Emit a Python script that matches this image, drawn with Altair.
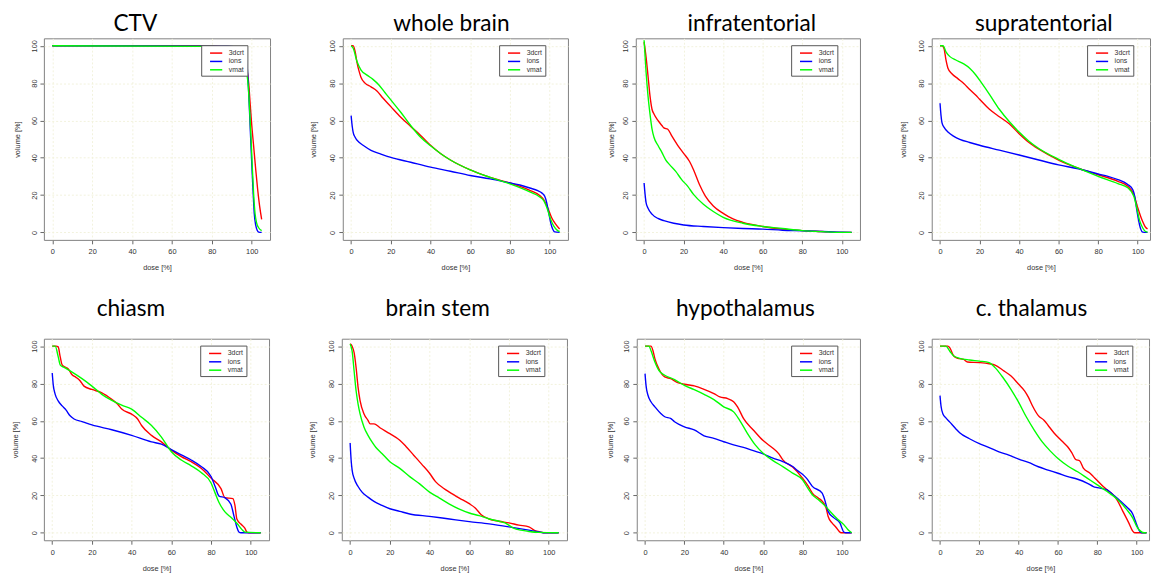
import altair as alt
import pandas as pd

SERIES = ["3dcrt", "ions", "vmat"]
COLORS = ["#ff0000", "#0000ff", "#00ff00"]
TICKS = [0, 20, 40, 60, 80, 100]

# ---------------- CTV ----------------
ctv_3dcrt_dose = [0, 75, 85, 90, 94, 96, 97.5, 98.5, 99.3, 100, 101, 102, 103, 104, 105]
ctv_3dcrt_vol = [100, 100, 99.5, 98.5, 96, 93, 88, 80, 68, 58, 46, 34, 23, 14, 7]
ctv_ions_dose = [0, 88, 94, 96, 97, 97.8, 98.5, 99.3, 100, 100.7, 101.3, 102, 102.8, 103.5, 105]
ctv_ions_vol = [100, 99.8, 99, 97.5, 95, 88, 75, 55, 38, 22, 10, 4, 1, 0.2, 0]
ctv_vmat_dose = [0, 80, 88, 92, 95, 96.5, 97.5, 98.3, 99, 99.7, 100.3, 101, 101.7, 102.5, 103.5, 105]
ctv_vmat_vol = [100, 99.7, 98.5, 97, 95, 92, 86, 78, 65, 50, 35, 20, 10, 5, 2.5, 1]

# ---------------- whole brain ----------------
wb_3dcrt_dose = [0, 1, 2, 3, 4, 5, 7, 10, 13, 16, 20, 25, 30, 35, 40, 45, 50, 60, 70, 80, 85, 90, 95, 97, 99, 101, 103, 105]
wb_3dcrt_vol = [100, 100, 97, 90.8, 86.4, 83, 80, 78, 75.8, 72, 67.4, 61.7, 56.8, 52, 46.7, 42.3, 38.8, 33.5, 29.5, 26.5, 24.7, 22.6, 19.8, 17.6, 13.2, 7.9, 4.4, 1.8]
wb_ions_dose = [0, 0.5, 1, 2, 4, 6, 10, 15, 20, 30, 40, 50, 60, 70, 80, 85, 90, 94, 96, 97.5, 98.5, 99.5, 100.5, 101.5, 102.5, 105]
wb_ions_vol = [62.6, 57.3, 53.8, 51, 48.3, 46.7, 44, 42, 40.2, 37.6, 35, 32.8, 30.5, 28.7, 26.5, 25.4, 23.8, 22.4, 21.2, 19.4, 16, 10.6, 5.3, 1.8, 0.3, 0]
wb_vmat_dose = [0, 1, 3, 5, 8, 11, 14, 17, 20, 25, 30, 35, 40, 45, 50, 60, 70, 80, 90, 95, 97, 99, 100.5, 102, 104, 105]
wb_vmat_vol = [100, 98.8, 91.4, 87, 84.3, 82, 79, 75, 71, 64.4, 57.3, 51, 46.4, 42.3, 38.8, 33.5, 29.5, 26, 21.7, 19, 17, 12, 7, 3.5, 1, 0.5]

# ---------------- infratentorial ----------------
inf_3dcrt_dose = [0, 1, 2, 3, 4, 5, 7, 9, 10, 12, 14, 17, 20, 23, 25, 28, 31, 35, 40, 45, 50, 60, 70, 80, 90, 100, 105]
inf_3dcrt_vol = [102, 94, 83.7, 73, 66, 63.5, 60, 57.3, 56, 55.3, 51.7, 46.7, 42.4, 38, 33.6, 25.7, 19.5, 14.2, 10.2, 7.2, 5.4, 3.2, 1.8, 1, 0.5, 0, 0]
inf_ions_dose = [0, 0.5, 1, 2, 4, 7, 10, 15, 20, 30, 40, 50, 60, 70, 80, 90, 100, 105]
inf_ions_vol = [26.5, 20.4, 16, 13, 9.8, 7.5, 6.3, 4.9, 4, 3.2, 2.6, 2.1, 1.8, 1.2, 0.9, 0.5, 0.1, 0]
inf_vmat_dose = [0, 1, 2, 3, 4, 5, 7, 9, 11, 13, 16, 19, 22, 25, 30, 35, 40, 50, 60, 70, 80, 90, 100, 105]
inf_vmat_vol = [103, 86, 73, 63.4, 55.5, 51, 46.7, 42.9, 38.8, 36.2, 32.7, 28.3, 24.8, 20.4, 15.1, 11.2, 8.1, 4.9, 3.2, 2.1, 1, 0.4, 0, 0]

# ---------------- supratentorial ----------------
sup_3dcrt_dose = [0, 1, 2, 3, 4, 6, 9, 12, 15, 18, 20, 25, 30, 35, 40, 45, 50, 60, 70, 80, 90, 95, 98, 100, 102, 104, 105]
sup_3dcrt_vol = [100, 100, 98.6, 92.4, 88, 85, 82.4, 79.8, 76.6, 73.6, 71.4, 66, 62, 58.2, 52.9, 48.2, 44.6, 38.8, 34.4, 30.9, 27.4, 24.8, 20.4, 13.4, 7.2, 2.8, 1.9]
sup_ions_dose = [0, 0.5, 1, 2, 4, 7, 10, 15, 20, 30, 40, 50, 60, 70, 80, 85, 90, 95, 97.5, 98.5, 99.5, 100.5, 101.5, 102.5, 105]
sup_ions_vol = [69.2, 62.6, 58.7, 56.4, 53.8, 51.5, 49.9, 48.2, 46.7, 44.1, 41.5, 38.8, 36.2, 34.1, 31.3, 30, 28.3, 25.7, 23, 19.5, 12.5, 6.3, 1.9, 0.2, 0]
sup_vmat_dose = [0, 1.5, 3, 5, 8, 12, 15, 18, 21, 25, 30, 35, 40, 45, 50, 60, 70, 80, 90, 95, 98, 99.5, 101, 102.5, 104, 105]
sup_vmat_vol = [100, 100, 96.8, 94.2, 92.4, 90.3, 88, 84.5, 80.1, 74, 66, 59.4, 53.8, 48.9, 45, 39.2, 34.4, 30, 26.2, 23.9, 19.5, 13.4, 6.3, 2.5, 0.5, 0.2]

# ---------------- chiasm ----------------
chi_3dcrt_dose = [0, 2, 3, 4, 5, 7, 8, 10, 12, 14, 16, 20, 25, 30, 33, 35, 40, 43, 45, 50, 55, 60, 65, 70, 75, 80, 85, 87, 91, 92, 93, 95, 97, 98, 99, 105]
chi_3dcrt_vol = [100, 100, 99.6, 94.4, 90, 88.6, 87.9, 84.7, 83.3, 81.5, 78.6, 76.8, 75, 71.5, 68.9, 66.3, 63.6, 61, 57.5, 52.2, 48.7, 44.3, 40.8, 38.1, 34.6, 29.3, 23.7, 18.8, 18.3, 14.8, 7.4, 4.7, 2.5, 0.4, 0, 0]
chi_ions_dose = [0, 0.5, 1.5, 3, 5, 7, 9, 11, 15, 20, 30, 40, 50, 55, 60, 65, 70, 75, 80, 82, 84, 87, 90, 91.5, 93, 94, 95, 105]
chi_ions_vol = [85.6, 79.4, 74.2, 70.7, 68, 65.7, 62.7, 61, 59.6, 57.8, 55.2, 52.2, 48.7, 47.5, 44.6, 41.7, 39, 35.5, 30.2, 25, 19.7, 18.8, 15.3, 9.1, 3, 0.4, 0, 0]
chi_vmat_dose = [0, 1.5, 3, 4, 6, 10, 15, 20, 25, 30, 35, 40, 45, 50, 55, 60, 65, 70, 75, 80, 82, 84, 87, 90, 93, 96, 97, 105]
chi_vmat_vol = [100, 100, 94.4, 90, 88.6, 86.1, 82.6, 78.6, 74.2, 71, 68.4, 66.3, 61.9, 57.5, 51.3, 43.4, 39, 35.9, 32.3, 26.7, 21.4, 16.2, 11.2, 8.3, 5.1, 1.2, 0.4, 0]

# ---------------- brain stem ----------------
bs_3dcrt_dose = [0, 1, 2, 3, 4, 5, 7, 9, 10, 12, 15, 20, 25, 28, 32, 36, 40, 43, 47, 50, 55, 60, 63, 66, 70, 75, 80, 85, 90, 93, 96, 98, 105]
bs_3dcrt_vol = [101.2, 100, 96.5, 88.5, 77.9, 70.8, 63.7, 60.2, 58.4, 58.4, 56.3, 53.1, 49.6, 46.4, 41.6, 36.8, 31.9, 27.4, 23.9, 21.8, 18.6, 15.6, 13.3, 9.7, 7.4, 6.2, 5.3, 4.1, 3.2, 1.2, 0.4, 0, 0]
bs_ions_dose = [0, 0.5, 1, 2, 4, 6, 9, 12, 16, 20, 25, 30, 40, 50, 60, 70, 80, 90, 95, 98, 105]
bs_ions_vol = [48.1, 38.9, 33.6, 29.2, 24.8, 21.8, 19.1, 16.8, 14.7, 12.9, 11.5, 10.1, 8.8, 7.4, 6, 4.8, 3.2, 1.4, 0.5, 0, 0]
bs_vmat_dose = [0, 1, 2, 3, 4, 5, 7, 9, 11, 13, 16, 20, 25, 30, 35, 40, 45, 50, 55, 60, 65, 70, 75, 78, 82, 86, 90, 95, 105]
bs_vmat_vol = [101.2, 97.3, 86.7, 76.1, 69, 63.7, 56.6, 52.2, 48.7, 45.7, 42.5, 38.1, 34.5, 30.1, 26.2, 21.8, 18.6, 15.4, 12.7, 10.6, 9.2, 7.4, 6.2, 5.3, 2.7, 1.4, 0.7, 0.2, 0]

# ---------------- hypothalamus ----------------
hyp_3dcrt_dose = [0, 3, 4, 5, 7, 10, 13, 16, 20, 25, 30, 35, 38, 42, 45, 47, 50, 55, 60, 65, 68, 70, 75, 80, 83, 85, 88, 90, 92, 93, 95, 97, 99, 100, 105]
hyp_3dcrt_vol = [100, 100, 97.7, 93.3, 87.9, 83.5, 82.6, 80.8, 79.6, 78.7, 76.9, 74.6, 72.8, 71.9, 70.2, 67.5, 61.3, 55.1, 49.4, 45.3, 42.3, 39.1, 35.2, 29.3, 24.9, 21.3, 18.7, 16.9, 13.3, 8.9, 5.3, 3, 0.4, 0, 0]
hyp_ions_dose = [0, 0.5, 1.5, 3, 5, 8, 10, 13, 15, 20, 25, 30, 35, 40, 45, 50, 55, 60, 65, 70, 75, 78, 80, 82, 85, 90, 91, 93, 96, 99, 101, 102, 105]
hyp_ions_vol = [85.3, 79, 73.7, 70.2, 67.5, 63.9, 62.2, 61.3, 59.5, 56.8, 55.1, 52, 50.6, 48.8, 47.1, 45.8, 44, 42.3, 40, 38.2, 35.5, 32.9, 31.4, 29.3, 24.9, 21.3, 18.7, 11.5, 8, 5.3, 0.4, 0, 0]
hyp_vmat_dose = [0, 2, 3, 5, 7, 10, 15, 20, 25, 30, 35, 40, 45, 48, 52, 56, 60, 65, 70, 75, 80, 83, 85, 88, 92, 95, 98, 101, 103, 105]
hyp_vmat_vol = [100, 100, 97.7, 91.5, 87, 84.4, 82.1, 79, 76.7, 74.2, 71.4, 67.5, 64.8, 60.4, 53.3, 47.1, 42.6, 38.7, 35.5, 32, 28.4, 23.4, 20.4, 17.8, 13.9, 10.3, 7.1, 4.4, 1.8, 0]

# ---------------- c. thalamus ----------------
tha_3dcrt_dose = [0, 4, 5, 7, 9, 12, 14, 20, 25, 28, 32, 36, 40, 43, 45, 47, 50, 53, 55, 58, 62, 65, 67, 69, 71, 73, 76, 78, 80, 83, 85, 88, 90, 93, 96, 98, 99, 105]
tha_3dcrt_vol = [100, 100, 99.1, 94.7, 93.5, 92.9, 91.5, 91.2, 90.6, 89.9, 87.1, 84.1, 79.6, 76.1, 72.6, 68.1, 62.8, 60.2, 57.5, 53.5, 49.2, 46, 43, 39.3, 38.6, 34.5, 32.2, 30.1, 28, 24.8, 23, 20.4, 17.7, 11.5, 5.3, 0.9, 0, 0]
tha_ions_dose = [0, 0.5, 1.5, 3, 5, 8, 10, 15, 20, 25, 30, 35, 40, 45, 50, 55, 60, 65, 70, 75, 78, 80, 85, 88, 92, 95, 98, 100, 101.5, 102.5, 105]
tha_ions_vol = [73.5, 68.1, 63.7, 61.6, 59.3, 55.8, 53.6, 50.4, 47.8, 45.7, 43.4, 41.6, 39.5, 37.7, 35.4, 33.6, 31.9, 30.1, 28.7, 26.5, 24.8, 24.2, 23, 20.4, 16.8, 13.8, 10.1, 4.4, 0.9, 0, 0]
tha_vmat_dose = [0, 3, 5, 7, 10, 15, 20, 25, 28, 32, 36, 40, 44, 48, 52, 56, 60, 65, 70, 75, 80, 85, 90, 95, 98, 100, 102, 104, 105]
tha_vmat_vol = [100, 100, 97.3, 94.7, 93.5, 92.6, 92, 91.2, 88.5, 83.2, 77, 69.9, 61.9, 54.9, 48.7, 43.9, 39.8, 35.8, 32.7, 29.2, 25.7, 22.1, 18.1, 12.4, 8, 3.5, 0.9, 0, 0]

PANELS = [
    ("CTV", [(ctv_3dcrt_dose, ctv_3dcrt_vol), (ctv_ions_dose, ctv_ions_vol), (ctv_vmat_dose, ctv_vmat_vol)]),
    ("whole brain", [(wb_3dcrt_dose, wb_3dcrt_vol), (wb_ions_dose, wb_ions_vol), (wb_vmat_dose, wb_vmat_vol)]),
    ("infratentorial", [(inf_3dcrt_dose, inf_3dcrt_vol), (inf_ions_dose, inf_ions_vol), (inf_vmat_dose, inf_vmat_vol)]),
    ("supratentorial", [(sup_3dcrt_dose, sup_3dcrt_vol), (sup_ions_dose, sup_ions_vol), (sup_vmat_dose, sup_vmat_vol)]),
    ("chiasm", [(chi_3dcrt_dose, chi_3dcrt_vol), (chi_ions_dose, chi_ions_vol), (chi_vmat_dose, chi_vmat_vol)]),
    ("brain stem", [(bs_3dcrt_dose, bs_3dcrt_vol), (bs_ions_dose, bs_ions_vol), (bs_vmat_dose, bs_vmat_vol)]),
    ("hypothalamus", [(hyp_3dcrt_dose, hyp_3dcrt_vol), (hyp_ions_dose, hyp_ions_vol), (hyp_vmat_dose, hyp_vmat_vol)]),
    ("c. thalamus", [(tha_3dcrt_dose, tha_3dcrt_vol), (tha_ions_dose, tha_ions_vol), (tha_vmat_dose, tha_vmat_vol)]),
]

# layout per panel
WIDTHS = [230, 229, 228, 222, 229, 229, 227, 221]
X_MAX = [109.2, 109.2, 109.2, 106.25, 109.2, 109.2, 109.2, 106.3]
LEGEND_X = [160, 159, 158, 158, 159, 159, 157, 157]
TITLE_DX = [-22, -4, 4, 3, -26, -17, -3, -9]
Y_TITLE_PAD = [9, 12, 7, 11, 10.5, 12, 9, 11]
TITLE_OFFSET = [2.5, 2.5, 2.5, 2.5, 18, 18, 18, 18]
HEIGHT = 205

AXIS_COMMON = dict(
    values=TICKS,
    grid=True,
    gridColor="#f2f2dc",
    gridDash=[2, 2],
    gridWidth=1,
    domain=False,
    ticks=True,
    tickColor="#666666",
    tickSize=4,
    tickWidth=1,
    labelFont="Liberation Sans",
    labelFontSize=7.5,
    labelColor="#333333",
    titleFont="Liberation Sans",
    titleFontSize=7.5,
    titleFontWeight="normal",
    titleColor="#333333",
)


def make_panel(i):
    name, curves = PANELS[i]
    rows = []
    for s, (d, v) in zip(SERIES, curves):
        for dd, vv in zip(d, v):
            rows.append({"dose": dd, "volume": vv, "plan": s})
    df = pd.DataFrame(rows)
    return (
        alt.Chart(df)
        .mark_line(strokeWidth=1.4, interpolate="monotone", clip=True)
        .encode(
            x=alt.X(
                "dose:Q",
                scale=alt.Scale(domain=[-4.2, X_MAX[i]], nice=False, zero=False),
                axis=alt.Axis(title="dose [%]", labelPadding=4, titlePadding=9, **AXIS_COMMON),
            ),
            y=alt.Y(
                "volume:Q",
                scale=alt.Scale(domain=[-4, 104], nice=False, zero=False),
                axis=alt.Axis(
                    title="volume [%]",
                    labelAngle=-90,
                    labelAlign="center",
                    labelBaseline="bottom",
                    labelPadding=2,
                    titlePadding=Y_TITLE_PAD[i],
                    **AXIS_COMMON,
                ),
            ),
            color=alt.Color(
                "plan:N",
                scale=alt.Scale(domain=SERIES, range=COLORS),
                legend=alt.Legend(
                    title=None,
                    orient="none",
                    legendX=LEGEND_X[i],
                    legendY=7,
                    direction="vertical",
                    strokeColor="#555555",
                    fillColor="white",
                    padding=3,
                    rowPadding=0.5,
                    symbolType="M-0.5,0H2.6",
                    symbolSize=64,
                    symbolStrokeWidth=1.5,
                    symbolOffset=3,
                    labelOffset=12,
                    labelFont="Liberation Sans",
                    labelFontSize=7,
                    labelColor="#333333",
                ),
            ),
            order=alt.Order("plan:N"),
            detail="plan:N",
        )
        .properties(
            width=WIDTHS[i],
            height=HEIGHT,
            title=alt.TitleParams(
                name,
                font="Lato",
                fontSize=23,
                fontWeight="normal",
                color="black",
                anchor="middle",
                frame="group",
                dx=TITLE_DX[i],
                offset=TITLE_OFFSET[i],
            ),
        )
    )


panels = [make_panel(i) for i in range(8)]
row1 = alt.hconcat(*panels[:4], spacing=38).resolve_scale(x="independent", y="independent", color="independent")
row2 = alt.hconcat(*panels[4:], spacing=38).resolve_scale(x="independent", y="independent", color="independent")

chart = (
    alt.vconcat(row1, row2, spacing=25.5)
    .resolve_scale(x="independent", y="independent", color="independent")
    .properties(background="white", padding={"left": 3.5, "top": 0, "right": 0, "bottom": 0})
    .configure_view(stroke="#808080", strokeWidth=1)
)

chart.save("out.html", embed_options={"renderer": "svg", "actions": False})
